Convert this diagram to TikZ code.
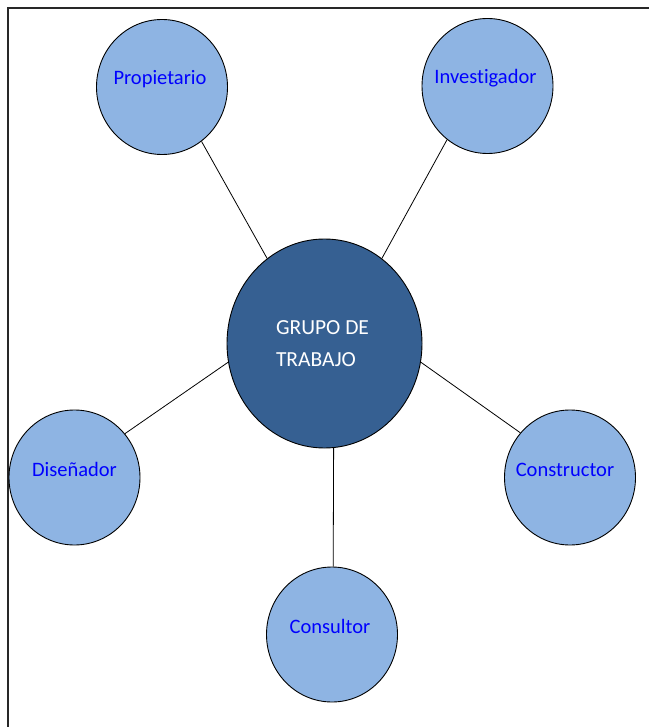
\documentclass[tikz,border=0pt]{standalone}
\usepackage{fontspec}
\setmainfont[Ligatures=NoCommon]{Carlito}
\usetikzlibrary{shapes.geometric}
\definecolor{lightfill}{RGB}{142,180,227}
\definecolor{darkfill}{RGB}{54,96,146}
\definecolor{lbl}{RGB}{0,0,255}
\definecolor{frame}{RGB}{40,40,40}
\tikzset{
  sat/.style={ellipse, draw=black, line width=0.9pt, fill=lightfill,
    minimum width=131pt, minimum height=135pt, inner sep=0pt},
  satlabel/.style={text=lbl, font=\fontsize{20.5}{23}\selectfont, yshift=8pt},
  hub/.style={ellipse, draw=black, line width=0.9pt, fill=darkfill,
    minimum width=195pt, minimum height=209pt, inner sep=0pt,
    text=white, align=left, font=\fontsize{21.5}{32}\selectfont},
  link/.style={draw=black, line width=0.8pt}
}
\begin{document}
\begin{tikzpicture}[x=1pt,y=-1pt]
\useasboundingbox (0,0) rectangle (649,727);
\draw[frame, line width=1.6pt] (8,727) -- (8,8) -- (649,8);
\node[hub] (g) at (324.5,343.5) {\hspace*{-4pt}GRUPO DE\\\hspace*{-4pt}TRABAJO};
\node[sat, label={[satlabel, xshift=-2pt]center:Propietario}] (p) at (162,87) {};
\node[sat, label={[satlabel, xshift=-2pt]center:Investigador}] (i) at (487.5,86) {};
\node[sat, label={[satlabel]center:Diseñador}] (d) at (74.5,477.5) {};
\node[sat, label={[satlabel, xshift=-5pt]center:Constructor}] (c) at (570,477.5) {};
\node[sat, label={[satlabel, xshift=-2pt]center:Consultor}] (s) at (332,634.5) {};
\draw[link] (p.-54) -- (g.124.7);
\draw[link] (i.-127) -- (g.56.9);
\draw[link] (d.41.4) -- (g.191.5);
\draw[link] (c.138) -- (g.-11);
\draw[link] (s.89) -- (g.-85.3);
\end{tikzpicture}
\end{document}
